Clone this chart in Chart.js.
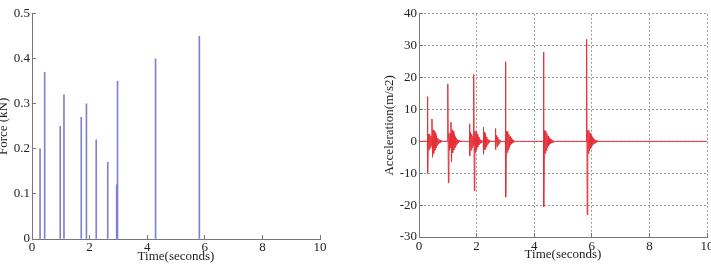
<!DOCTYPE html>
<html>
  <head>
    <title>Force and acceleration</title>
    <style>
      body { margin: 0; width: 711px; height: 275px; overflow: hidden; position: relative; background: #fff; }
      #left { position: absolute; left: -4px; top: 0; }
      #right { position: absolute; left: 360px; top: 0; }
    </style>
  </head>
  <body>
    <canvas id="left" width="344" height="275"></canvas>
    <canvas id="right" width="371" height="275"></canvas>
    <script src="https://cdn.jsdelivr.net/npm/chart.js"></script>
    <script>
// impact forces (left plot)
const forceTimes = [0.28, 0.44, 0.98, 1.11, 1.71, 1.89, 2.23, 2.63, 2.94, 2.97, 4.29, 5.81];
const forceValues = [0.20, 0.37, 0.25, 0.32, 0.27, 0.30, 0.22, 0.17, 0.12, 0.35, 0.40, 0.45];

const timeTicks = ['0', '2', '4', '6', '8', '10'];
const forceTicks = ['0', '0.1', '0.2', '0.3', '0.4', '0.5'];
const accelTicks = ['-30', '-20', '-10', '0', '10', '20', '30', '40'];

// acceleration response (right plot): each burst starts at burstStart[i],
// values read every sampleStep seconds
const sampleStep = 0.02;
const burstStart = [0.29, 0.45, 1.00, 1.11, 1.75, 1.90, 2.23, 2.65, 3.00, 4.32, 5.82];
const accelBursts = [
  [14, -10, 2.2, -2.6, 2.3, -2.0, 1.7, -1.4, 1.1, -0.9, 0.7, -0.5, 0.4, -0.3, 0.2, -0.1],
  [7, -5, 3.6, -3.8, 3.2, -2.8, 2.4, -2.0, 1.6, -1.3, 1.0, -0.8, 0.6, -0.5, 0.4, -0.3, 0.2, -0.1],
  [18, -13, 2.6, -2.8, 2.4, -2.1, 1.8, -1.4, 1.1, -0.8, 0.6, -0.4, 0.3],
  [6, -6.5, 3.6, -3.6, 3.1, -2.7, 2.3, -1.9, 1.5, -1.2, 0.9, -0.7, 0.5, -0.4, 0.3, -0.2, 0.1],
  [5.5, -4.5, 2.8, -2.8, 2.3, -2.0, 1.6, -1.3, 1.0, -0.7],
  [21, -15.5, 3.2, -3.5, 3.0, -2.6, 2.2, -1.8, 1.4, -1.1, 0.8, -0.6, 0.5, -0.4, 0.3, -0.2],
  [4.5, -4, 2.8, -2.6, 2.2, -1.8, 1.4, -1.1, 0.8, -0.6, 0.4, -0.3, 0.2],
  [4, -2.5, 1.9, -1.7, 1.4, -1.1, 0.8, -0.6, 0.4, -0.2],
  [25, -17.5, 3.2, -3.5, 3.1, -2.7, 2.3, -1.9, 1.5, -1.2, 0.9, -0.7, 0.5, -0.4, 0.3, -0.2, 0.1],
  [28, -20.5, 3.4, -3.8, 3.3, -2.9, 2.5, -2.1, 1.7, -1.4, 1.1, -0.9, 0.7, -0.6, 0.5, -0.4, 0.3, -0.25, 0.2, -0.15, 0.1, -0.1],
  [32, -23, 3.5, -3.9, 3.4, -3.0, 2.6, -2.2, 1.8, -1.5, 1.2, -1.0, 0.8, -0.7, 0.6, -0.5, 0.4, -0.3, 0.25, -0.2, 0.15, -0.1, 0.1, -0.05]
];

Chart.defaults.font.family = "'Liberation Serif', serif";
Chart.defaults.font.size = 13;
Chart.defaults.color = '#222';

// build the acceleration trace
let accelPoints = [{x: 0, y: 0}];
burstStart.forEach((t0, b) => {
  accelPoints.push({x: t0, y: 0});
  accelBursts[b].forEach((v, i) => accelPoints.push({x: t0 + i * sampleStep, y: v}));
  accelPoints.push({x: t0 + accelBursts[b].length * sampleStep, y: 0});
});
accelPoints.push({x: 10, y: 0});

const axisGray = '#777';

new Chart(document.getElementById('left'), {
  type: 'bar',
  data: {
    datasets: [{
      data: forceTimes.map((t, i) => ({x: t, y: forceValues[i]})),
      backgroundColor: 'rgb(128, 128, 212)',
      barThickness: 1
    }]
  },
  options: {
    responsive: false,
    animation: false,
    layout: { padding: { top: 12, right: 20, left: 0, bottom: 0 } },
    plugins: { legend: { display: false }, tooltip: { enabled: false } },
    scales: {
      x: {
        type: 'linear', min: 0, max: 10, offset: false,
        ticks: { stepSize: 2, padding: 5, maxRotation: 0, autoSkip: false, callback: (v, i) => timeTicks[i] },
        grid: { drawOnChartArea: false, tickLength: -4, color: axisGray, offset: false },
        border: { color: axisGray },
        title: { display: true, text: 'Time(seconds)', padding: { top: 0, bottom: 11 } },
        afterFit: s => { s.height = 36; }
      },
      y: {
        min: 0, max: 0.5,
        ticks: { stepSize: 0.1, padding: 6, callback: (v, i) => forceTicks[i] },
        grid: { drawOnChartArea: false, tickLength: -4, color: axisGray },
        border: { color: axisGray },
        title: { display: true, text: 'Force (kN)', padding: { top: 0, bottom: 0 } },
        afterFit: s => { s.width = 36; }
      }
    }
  }
});

new Chart(document.getElementById('right'), {
  type: 'line',
  data: {
    datasets: [{
      data: accelPoints,
      borderColor: 'rgb(228, 48, 58)',
      borderWidth: 1,
      pointRadius: 0,
      tension: 0
    }]
  },
  options: {
    responsive: false,
    animation: false,
    layout: { padding: { top: 10, right: 24, left: 0, bottom: 0 } },
    plugins: { legend: { display: false }, tooltip: { enabled: false } },
    scales: {
      x: {
        type: 'linear', min: 0, max: 10,
        ticks: { stepSize: 2, padding: 6, maxRotation: 0, autoSkip: false, callback: (v, i) => timeTicks[i] },
        grid: { tickLength: -4, color: '#999', tickColor: axisGray },
        border: { color: axisGray, dash: [2, 2] },
        title: { display: true, text: 'Time(seconds)', padding: { top: 0, bottom: 13 } },
        afterFit: s => { s.height = 38; }
      },
      y: {
        min: -30, max: 40,
        ticks: { stepSize: 10, padding: 6, callback: (v, i) => accelTicks[i] },
        grid: { tickLength: -4, color: '#999', tickColor: axisGray },
        border: { color: axisGray, dash: [2, 2] },
        title: { display: true, text: 'Acceleration(m/s2)', padding: { top: 22, bottom: 0 } },
        afterFit: s => { s.width = 59; }
      }
    }
  }
});
    </script>
  </body>
</html>
